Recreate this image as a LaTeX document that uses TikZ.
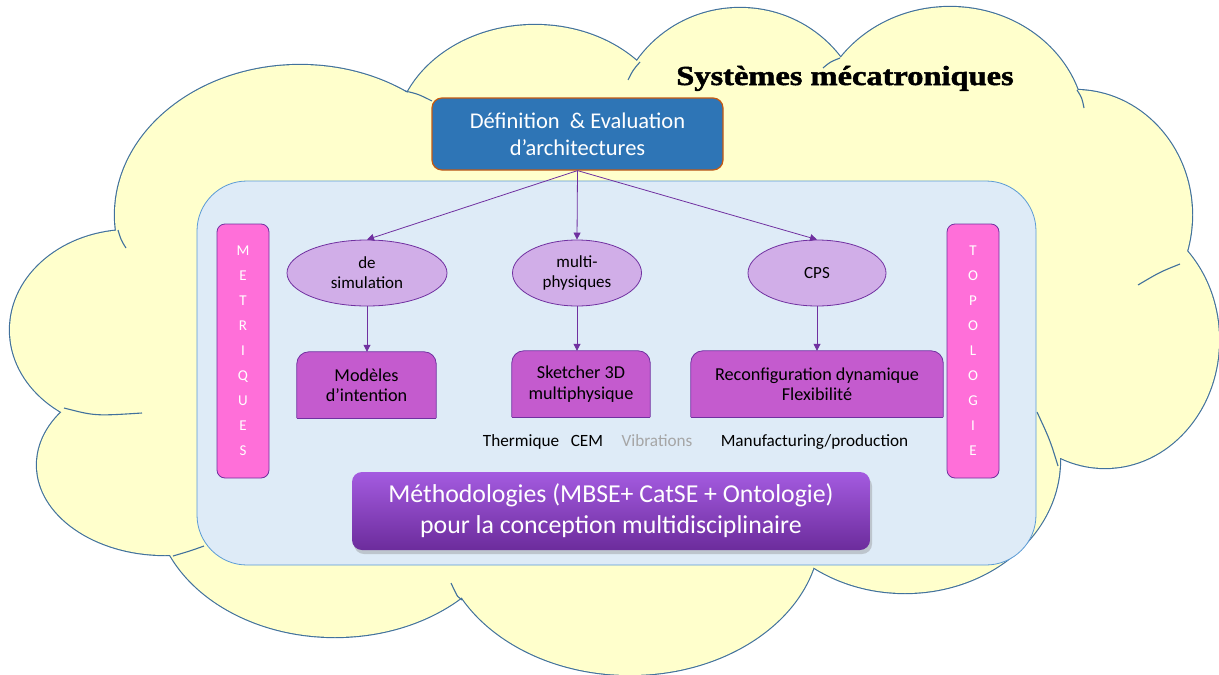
\documentclass[tikz,border=0pt]{standalone}
\usepackage{fontspec}
\setmainfont{Carlito}
\newfontfamily\titlefont[FakeStretch=1.18, BoldFeatures={FakeBold=1.8}]{Liberation Serif}
\usetikzlibrary{arrows.meta,shapes.geometric,shadows}
\pgfdeclarelayer{cloudlayer}
\pgfdeclarelayer{shapelayer}
\pgfsetlayers{cloudlayer,shapelayer,main}

\definecolor{cloudfill}{HTML}{FFFFCC}
\definecolor{cloudline}{HTML}{41719C}
\definecolor{panelfill}{HTML}{DEEBF7}
\definecolor{panelline}{HTML}{5B9BD5}
\definecolor{topfill}{HTML}{2E75B6}
\definecolor{topline}{HTML}{C55A11}
\definecolor{ellfill}{HTML}{D1AEE8}
\definecolor{purpline}{HTML}{7030A0}
\definecolor{boxfill}{HTML}{C45BCE}
\definecolor{pinkfill}{HTML}{FF6FD9}
\definecolor{methtop}{HTML}{A45BE0}
\definecolor{methmid}{HTML}{7634A8}
\definecolor{methbot}{HTML}{6C2C9C}
\definecolor{vibgray}{HTML}{A6A6A6}

\begin{document}
\begin{tikzpicture}[x=1pt,y=-1pt,
  conn/.style={draw=purpline, line width=0.8pt, -{Triangle[length=7pt,width=7pt]}},
  ellnode/.style={ellipse, draw=purpline, fill=ellfill, line width=0.8pt, inner sep=0pt, align=center, font=\fontsize{17}{20}\selectfont},
  sboxnode/.style={rectangle, inner sep=0pt, align=center, font=\fontsize{18.2}{20.5}\selectfont},
  barnode/.style={rectangle, rounded corners=8pt, draw=purpline, fill=pinkfill, line width=0.8pt, minimum width=52pt, minimum height=254pt, inner sep=0pt, align=center, text=white, font=\fontsize{15}{25}\selectfont},
  rowtext/.style={anchor=base, inner sep=0pt, font=\fontsize{17.2}{20}\selectfont},
  cloudtick/.style={draw=cloudline, line width=1.1pt}
]
\useasboundingbox (0,0) rectangle (1219,675);

% ---------- cloud ----------
\begin{pgfonlayer}{cloudlayer}
\foreach \cx/\cy/\rx/\ry in {300/215/185/150, 535/140/140/115, 740/130/125/122, 950/130/135/123, 1075/215/117/125, 1105/340/114/128, 905/460/155/133, 630/530/190/145, 335/500/180/137, 165/465/128/90, 130/330/120/100}
  {\draw[cloudline, line width=2.3pt] (\cx,\cy) ellipse [x radius=\rx pt, y radius=\ry pt];}
\foreach \cx/\cy/\rx/\ry in {300/215/185/150, 535/140/140/115, 740/130/125/122, 950/130/135/123, 1075/215/117/125, 1105/340/114/128, 905/460/155/133, 630/530/190/145, 335/500/180/137, 165/465/128/90, 130/330/120/100}
  {\fill[cloudfill] (\cx,\cy) ellipse [x radius=\rx pt, y radius=\ry pt];}
\fill[cloudfill] (300,215) -- (535,140) -- (740,130) -- (950,130) -- (1075,215) -- (1105,340) -- (905,460) -- (630,530) -- (335,500) -- (165,465) -- (130,330) -- cycle;
% inner arcs of the cloud
\draw[cloudtick] (118,230) .. controls (121,240) .. (126,248);
\draw[cloudtick] (64,408) .. controls (95,416) .. (142,413);
\draw[cloudtick] (173,556) .. controls (190,551) .. (204,546);
\draw[cloudtick] (451,583) .. controls (458,598) .. (462,600);
\draw[cloudtick] (1037,412) .. controls (1050,440) .. (1058,466);
\draw[cloudtick] (1077,90) .. controls (1082,98) .. (1084,108);
\draw[cloudtick] (1180,264) .. controls (1160,272) .. (1138,285);
\draw[cloudtick] (640,62) .. controls (633,70) .. (628,80);
\draw[cloudtick] (840,58) .. controls (830,62) .. (823,68);
\draw[cloudtick] (405,91) .. controls (418,94) .. (432,101);

% ---------- light-blue panel ----------
\node[draw=panelline, fill=panelfill, line width=0.8pt, rounded corners=50pt, minimum width=839pt, minimum height=384pt, inner sep=0pt] (panel) at (616.5,373) {};
\end{pgfonlayer}

% ---------- title ----------
\node[anchor=base, inner sep=0pt, font=\titlefont\bfseries\fontsize{27.5}{30}\selectfont] (title) at (845,85) {Systèmes mécatroniques};

% ---------- top box ----------
\node[draw=topline, fill=topfill, line width=1.2pt, rounded corners=10pt, minimum width=291pt, minimum height=72pt, inner sep=0pt, text=white, align=center, font=\fontsize{22.5}{27}\selectfont] (def) at (577.5,134) {Définition~~\& Evaluation\\d’architectures};

% ---------- side bars ----------
\node[barnode] (met) at (243,351) {M\\E\\T\\R\\I\\Q\\U\\E\\S};
\node[barnode] (topo) at (973,351) {T\\O\\P\\O\\L\\O\\G\\I\\E};

% ---------- ellipses ----------
\node[ellnode, minimum width=160pt, minimum height=66pt] (e1) at (367,273) {de\\simulation};
\node[ellnode, minimum width=129pt, minimum height=66pt] (e2) at (577,273) {multi-\\physiques};
\node[ellnode, minimum width=138pt, minimum height=66pt] (e3) at (817,273) {CPS};

% ---------- boxes ----------
\node[sboxnode, minimum width=139pt, minimum height=66pt] (b1) at (366.5,385) {Modèles\\d’intention};
\node[sboxnode, minimum width=138pt, minimum height=66pt] (b2) at (581,384) {Sketcher 3D\\multiphysique};
\node[sboxnode, minimum width=252pt, minimum height=66pt] (b3) at (817,384) {Reconfiguration dynamique\\Flexibilité};

\begin{pgfonlayer}{shapelayer}
\foreach \b in {b1,b2,b3} {
  \fill[boxfill, rounded corners=12pt] (\b.south west) -- (\b.north west) -- (\b.north east) -- (\b.south east);
  \draw[purpline, line width=0.8pt, rounded corners=12pt] (\b.south west) -- (\b.north west) -- (\b.north east) -- (\b.south east);
  \draw[purpline, line width=0.8pt] (\b.south east) -- (\b.south west);
}
\end{pgfonlayer}

% ---------- row of labels ----------
\node[rowtext] (therm) at (543,446) {Thermique~~~CEM};
\node[rowtext, text=vibgray] (vib) at (657,446) {Vibrations};
\node[rowtext] (manu) at (814.5,446) {Manufacturing/production};

% ---------- methodology box ----------
\node[rounded corners=10pt, top color=methtop, middle color=methmid, bottom color=methbot, minimum width=518pt, minimum height=78pt, inner sep=0pt, text=white, align=center, font=\fontsize{25.8}{31}\selectfont, drop shadow={shadow xshift=2pt, shadow yshift=-4pt, opacity=0.35}] (meth) at (611,511) {Méthodologies (MBSE+ CatSE + Ontologie)\\pour la conception multidisciplinaire};

% ---------- connectors ----------
\draw[conn] (def.south) -- (e1.north);
\draw[conn] (def.south) -- (e2.north);
\draw[conn] (def.south) -- (e3.north);
\draw[conn] (e1.south) -- (e1.south |- b1.north);
\draw[conn] (e2.south) -- (e2.south |- b2.north);
\draw[conn] (e3.south) -- (e3.south |- b3.north);
\end{tikzpicture}
\end{document}
